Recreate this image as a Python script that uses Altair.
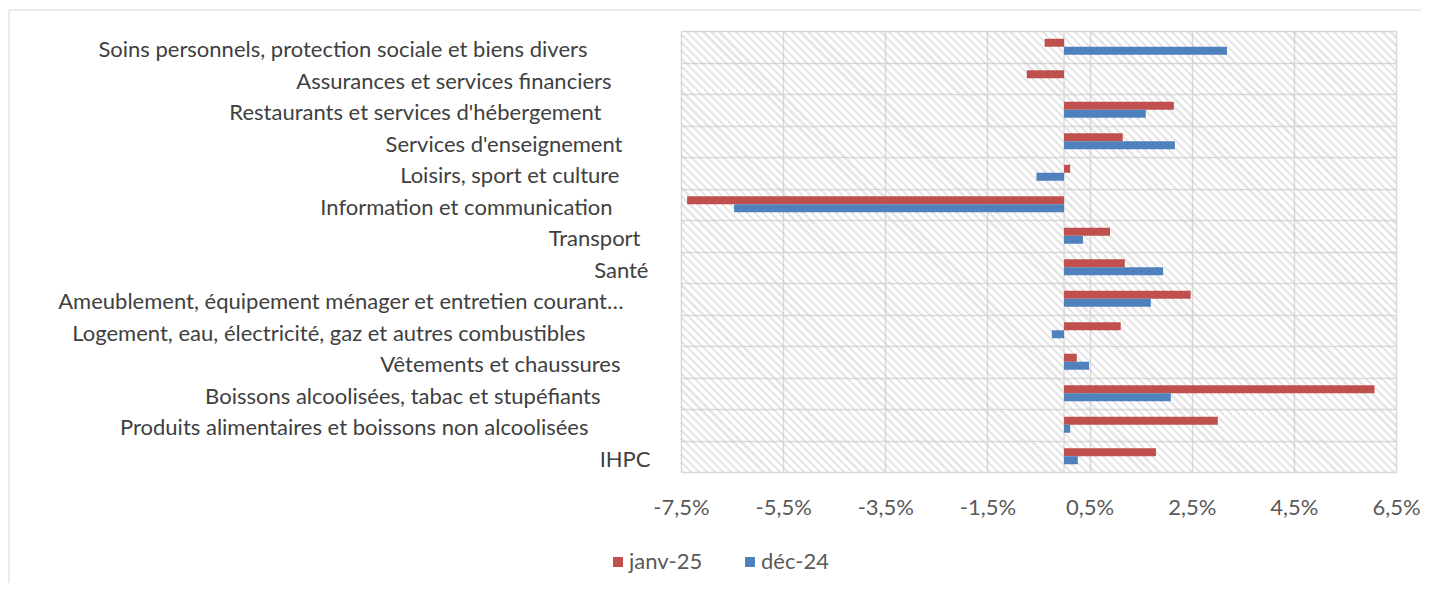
import json
import math
import altair as alt
import pandas as pd

# ---------------- data ----------------
categories = [
    "Soins personnels, protection sociale et biens divers",
    "Assurances et services financiers",
    "Restaurants et services d'hébergement",
    "Services d'enseignement",
    "Loisirs, sport et culture",
    "Information et communication",
    "Transport",
    "Santé",
    "Ameublement, équipement ménager et entretien courant…",
    "Logement, eau, électricité, gaz et autres combustibles",
    "Vêtements et chaussures",
    "Boissons alcoolisées, tabac et stupéfiants",
    "Produits alimentaires et boissons non alcoolisées",
    "IHPC",
]
janv25 = [-0.38, -0.73, 2.15, 1.15, 0.12, -7.38, 0.90, 1.19, 2.48, 1.11, 0.25, 6.08, 3.01, 1.80]
dec24 = [3.19, 0.00, 1.60, 2.17, -0.54, -6.46, 0.37, 1.94, 1.70, -0.24, 0.49, 2.09, 0.12, 0.27]
series = ["janv-25", "déc-24"]
x_ticks = [-7.5, -5.5, -3.5, -1.5, 0.5, 2.5, 4.5, 6.5]
zero_line = [0]

# ---------------- styles ----------------
colors = ["#C0504D", "#4F81BD"]
GRID = "#d9d9d9"
FONT = "Lato"
FS = 22
W, H = 715, 441
# distance (px) between each category label and the plot (Excel-like uneven alignment)
label_pad = [94, 70, 80, 59, 62, 69, 41, 33, 58, 96, 61, 81, 93, 31]

rows = []
for c, a, b in zip(categories, janv25, dec24):
    rows.append({"cat": c, "serie": series[0], "val": a})
    rows.append({"cat": c, "serie": series[1], "val": b})
df = pd.DataFrame(rows)

# hatch pattern as a hard-stop linear gradient (45 degree stripes)
r = H / W
s = (1 + r) / (1 + r * r)
D = (W + H) / math.sqrt(2)
N = int(round(D / 5.7))
frac = 0.4
stripe = "rgba(200,200,200,0.45)"
clear = "rgba(255,255,255,0)"
stops = []
for i in range(N):
    b0 = i / N
    b1 = (i + frac) / N
    b2 = (i + 1) / N
    stops += [
        {"offset": round(b0, 6), "color": stripe},
        {"offset": round(b1, 6), "color": stripe},
        {"offset": round(b1, 6), "color": clear},
        {"offset": round(b2, 6), "color": clear},
    ]
hatch = {"gradient": "linear", "x1": 0, "y1": 1, "x2": s, "y2": 1 - s * r, "stops": stops}

pad_cond = [
    {"test": "datum.value === " + json.dumps(c, ensure_ascii=False), "value": p}
    for c, p in zip(categories, label_pad)
]

xscale = alt.Scale(domain=[x_ticks[0], x_ticks[-1]], nice=False, zero=False)

label_expr = (
    "(datum.value < 0 ? '-' : '') + "
    "replace(format(abs(datum.value), '.1f'), '.', ',') + '%'"
)

one = pd.DataFrame({"k": [0]})

border = alt.Chart(one).mark_rect(
    fill="transparent", stroke=GRID, strokeWidth=1
).encode(
    x=alt.value(-672), x2=alt.value(W + 200), y=alt.value(-21), y2=alt.value(H + 300)
)

bg = alt.Chart(one).mark_rect(fill=hatch).encode(
    x=alt.datum(x_ticks[0], scale=xscale),
    x2=alt.datum(x_ticks[-1]),
    y=alt.value(0),
    y2=alt.value("height"),
)

zero = alt.Chart(pd.DataFrame({"z": zero_line})).mark_rule(
    color=GRID, strokeWidth=1.5
).encode(x=alt.X("z:Q", scale=xscale))

bars = alt.Chart(df).mark_bar().encode(
    y=alt.Y(
        "cat:N",
        sort=categories,
        scale=alt.Scale(paddingInner=0, paddingOuter=0),
        axis=alt.Axis(
            title=None,
            domain=False,
            ticks=False,
            grid=True,
            tickBand="extent",
            gridColor=GRID,
            gridWidth=1.5,
            labelFont=FONT,
            labelFontSize=FS,
            labelColor="#404040",
            labelLimit=1000,
            labelOffset=3,
            labelPadding={"condition": pad_cond, "value": 40},
        ),
    ),
    yOffset=alt.YOffset(
        "serie:N", sort=series, scale=alt.Scale(paddingInner=0, paddingOuter=0.97)
    ),
    x=alt.X(
        "val:Q",
        scale=xscale,
        axis=alt.Axis(
            values=x_ticks,
            title=None,
            domain=False,
            ticks=False,
            grid=True,
            gridColor=GRID,
            gridWidth=1.5,
            labelExpr=label_expr,
            labelFont=FONT,
            labelFontSize=FS,
            labelColor="#595959",
            labelPadding=25,
            labelFlush=False,
            labelOverlap=False,
        ),
    ),
    color=alt.Color(
        "serie:N",
        sort=series,
        scale=alt.Scale(domain=series, range=colors),
        legend=alt.Legend(
            title=None,
            orient="none",
            legendX=-74,
            legendY=520,
            direction="horizontal",
            symbolType="square",
            symbolSize=100,
            symbolStrokeWidth=0,
            labelFont=FONT,
            labelFontSize=FS,
            labelColor="#595959",
            labelOffset=0,
            columnPadding=36,
        ),
    ),
)

chart = alt.layer(border, bg, zero, bars).properties(
    width=W,
    height=H,
    padding={"left": 673, "top": 23, "right": 25, "bottom": 111},
    autosize=alt.AutoSizeParams(type="none"),
).configure_view(stroke=GRID, strokeWidth=1.5).configure(background="white")

chart.save("out.html", embed_options={"renderer": "svg", "actions": False})
